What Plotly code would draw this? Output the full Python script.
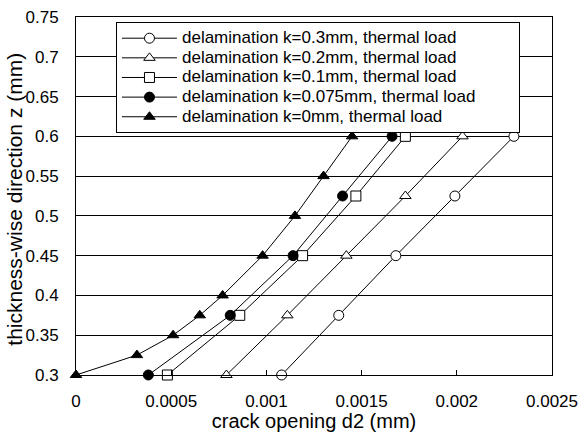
import plotly.graph_objects as go

# ---- data ----
z5 = [0.3, 0.375, 0.45, 0.525, 0.6]
d2_k03 = [0.00108, 0.00138, 0.00168, 0.00199, 0.00230]
d2_k02 = [0.00079, 0.00111, 0.00142, 0.00173, 0.00203]
d2_k01 = [0.00048, 0.00086, 0.00119, 0.00147, 0.00173]
d2_k0075 = [0.00038, 0.00081, 0.00114, 0.00140, 0.00166]
z_k0 = [0.3, 0.325, 0.35, 0.375, 0.4, 0.45, 0.5, 0.55, 0.6]
d2_k0 = [0.0, 0.00032, 0.00051, 0.00065, 0.00077, 0.00098, 0.00115, 0.00130, 0.00145]

labels = [
    "delamination k=0.3mm, thermal load",
    "delamination k=0.2mm, thermal load",
    "delamination k=0.1mm, thermal load",
    "delamination k=0.075mm, thermal load",
    "delamination k=0mm, thermal load",
]
x_ticks = [0, 0.0005, 0.001, 0.0015, 0.002, 0.0025]
x_ticktext = ["0", "0.0005", "0.001", "0.0015", "0.002", "0.0025"]
y_ticks = [0.3, 0.35, 0.4, 0.45, 0.5, 0.55, 0.6, 0.65, 0.7, 0.75]
y_ticktext = ["0.3", "0.35", "0.4", "0.45", "0.5", "0.55", "0.6", "0.65", "0.7", "0.75"]
x_title = "crack opening d2 (mm)"
y_title = "thickness-wise direction z (mm)"

series = [
    (d2_k03, z5, "circle-open"),
    (d2_k02, z5, "triangle-up-open"),
    (d2_k01, z5, "square-open"),
    (d2_k0075, z5, "circle"),
    (d2_k0, z_k0, "triangle-up"),
]

fig = go.Figure()
for (xs, ys, sym), name in zip(series, labels):
    open_ = sym.endswith("open")
    fig.add_trace(go.Scatter(
        x=xs, y=ys, mode="lines+markers",
        name='<span style="font-size:17px">' + name + "\u00a0" * 8 + "</span>",
        line=dict(color="black", width=1),
        marker=dict(symbol=sym.replace("-open", ""), size=10,
                    color="white" if open_ else "black",
                    line=dict(color="black", width=1)),
        cliponaxis=False,
    ))

font = "Liberation Sans, Arial, sans-serif"
fig.update_layout(
    width=580, height=432,
    margin=dict(l=76, r=28, t=17, b=57, autoexpand=False),
    paper_bgcolor="white", plot_bgcolor="white",
    font=dict(family=font, size=17, color="black"),
    showlegend=True,
    legend=dict(x=0.084, y=0.985, xanchor="left", yanchor="top",
                bgcolor="white", bordercolor="black", borderwidth=1,
                font=dict(size=12.8), tracegroupgap=0, itemwidth=55),
    xaxis=dict(range=[0, 0.0025], tickvals=x_ticks, ticktext=x_ticktext,
               automargin=False,
               showgrid=False, zeroline=False, showline=True, linecolor="black",
               linewidth=1, mirror=True, ticks="inside", ticklen=5, tickcolor="black",
               ticklabelstandoff=11,
               title=dict(text=x_title, font=dict(size=20), standoff=4)),
    yaxis=dict(range=[0.3, 0.75], tickvals=y_ticks, ticktext=y_ticktext,
               automargin=False,
               showgrid=True, gridcolor="black", gridwidth=1, zeroline=False,
               showline=True, linecolor="black", linewidth=1, mirror=True,
               ticks="", ticklabelstandoff=13),
    annotations=[dict(text=y_title, xref="paper", yref="paper",
                      x=-0.13, y=0.49, xanchor="center", yanchor="middle",
                      textangle=-90, showarrow=False, font=dict(size=21))],
)

fig.write_html("out.html")
